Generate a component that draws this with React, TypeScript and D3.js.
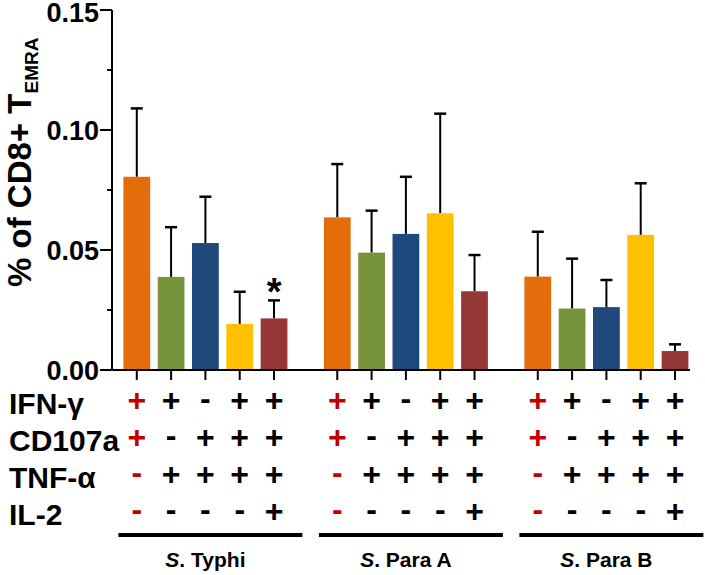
import * as d3 from "d3";

const groups = ["S. Typhi", "S. Para A", "S. Para B"];
const subsets = ["IFN+CD107a+", "IFN+TNF+", "CD107a+TNF+", "IFN+CD107a+TNF+", "IFN+CD107a+TNF+IL2+"];
const colors = ["#E46C0A", "#77933C", "#1F497D", "#FFC000", "#953735"];

// mean values per group (bars)
const typhiMean = [0.0805, 0.0388, 0.0529, 0.0192, 0.0215];
const paraAMean = [0.0636, 0.0489, 0.0567, 0.0653, 0.0328];
const paraBMean = [0.0389, 0.0256, 0.0262, 0.0563, 0.0079];
// upper error (SEM)
const typhiErr = [0.0285, 0.0207, 0.0193, 0.0134, 0.0075];
const paraAErr = [0.0222, 0.0175, 0.0238, 0.0415, 0.0151];
const paraBErr = [0.0187, 0.0208, 0.0113, 0.0215, 0.0028];

const means = [typhiMean, paraAMean, paraBMean];
const errs = [typhiErr, paraAErr, paraBErr];

const yTicks = [0, 0.05, 0.1, 0.15];
const yMinorTicks = [0.025, 0.075, 0.125];

const rowLabels = ["IFN-γ", "CD107a", "TNF-α", "IL-2"];
const rowSigns = [
  ["+", "+", "-", "+", "+"],
  ["+", "-", "+", "+", "+"],
  ["-", "+", "+", "+", "+"],
  ["-", "-", "-", "-", "+"],
];

// significance marks: [group, subset]
const stars = [[0, 4]];

const W = 705;
const H = 575;
const FONT = "'Liberation Sans', Arial, sans-serif";

export default function App() {
  const y = d3.scaleLinear().domain([0, 0.15]).range([370, 10]);
  const xGroup = d3.scaleBand<string>().domain(groups).range([123.4, 688.4]).paddingInner(0.182);
  const xInner = d3
    .scaleBand<string>()
    .domain(subsets)
    .range([0, xGroup.bandwidth()])
    .paddingInner(0.22);

  const cx = (g: number, s: number) =>
    (xGroup(groups[g]) ?? 0) + (xInner(subsets[s]) ?? 0) + xInner.bandwidth() / 2;

  const rowCenters = [400, 437, 474, 511];
  const axisX = 112;
  const bw = xInner.bandwidth();

  return (
    <svg
      width={W}
      height={H}
      style={{ position: "absolute", left: 0, top: 0, display: "block", background: "#fff" }}
      fontFamily={FONT}
    >
      {/* bars + error bars */}
      {means.map((vals, g) =>
        vals.map((v, s) => {
          const x = cx(g, s);
          const top = y(v + errs[g][s]);
          return (
            <g key={`b${g}-${s}`}>
              <line x1={x} x2={x} y1={y(v)} y2={top} stroke="#000" strokeWidth={2} />
              <line x1={x - 6} x2={x + 6} y1={top} y2={top} stroke="#000" strokeWidth={2.5} />
              <rect x={x - bw / 2} y={y(v)} width={bw} height={y(0) - y(v)} fill={colors[s]} />
            </g>
          );
        })
      )}

      {/* significance */}
      {stars.map(([g, s]) => (
        <text
          key={`st${g}${s}`}
          x={cx(g, s)}
          y={y(means[g][s] + errs[g][s]) + 5}
          textAnchor="middle"
          fontSize={38}
          fontWeight="bold"
        >
          *
        </text>
      ))}

      {/* y axis */}
      <line x1={axisX} x2={axisX} y1={y(0.15)} y2={y(0) + 1} stroke="#000" strokeWidth={2} />
      {yTicks.map((t) => (
        <g key={`yt${t}`}>
          <line x1={axisX - 12} x2={axisX} y1={y(t)} y2={y(t)} stroke="#000" strokeWidth={2} />
          <text
            x={axisX - 13}
            y={y(t) + (t === 0.15 ? 2 : 0)}
            dy="0.36em"
            textAnchor="end"
            fontSize={27}
            fontWeight="bold"
          >
            {d3.format(".2f")(t)}
          </text>
        </g>
      ))}
      {yMinorTicks.map((t) => (
        <line key={`ym${t}`} x1={axisX - 5} x2={axisX} y1={y(t)} y2={y(t)} stroke="#000" strokeWidth={2} />
      ))}
      <text transform="translate(31,287) rotate(-90)" fontSize={33} fontWeight="bold">
        % of CD8+ T
        <tspan fontSize={19} dy={7}>
          EMRA
        </tspan>
      </text>

      {/* x axis */}
      <line x1={axisX - 1} x2={690} y1={y(0)} y2={y(0)} stroke="#000" strokeWidth={2} />
      {groups.map((_, g) =>
        subsets.map((_, s) => (
          <line key={`xt${g}${s}`} x1={cx(g, s)} x2={cx(g, s)} y1={y(0)} y2={y(0) + 10} stroke="#000" strokeWidth={2} />
        ))
      )}

      {/* marker table */}
      {rowLabels.map((lab, r) => (
        <text key={`rl${r}`} x={9} y={rowCenters[r] + 14} fontSize={30} fontWeight="bold">
          {lab}
        </text>
      ))}
      {groups.map((_, g) =>
        rowSigns.map((row, r) =>
          row.map((sign, s) => (
            <text
              key={`sg${g}${r}${s}`}
              x={cx(g, s)}
              y={rowCenters[r] + (sign === "+" ? 11 : 9)}
              textAnchor="middle"
              fontSize={32}
              fontWeight="bold"
              fill={s === 0 ? "#C00000" : "#000"}
            >
              {sign}
            </text>
          ))
        )
      )}

      {/* group underlines + labels */}
      {groups.map((name, g) => {
        const c = (xGroup(name) ?? 0) + xGroup.bandwidth() / 2;
        const [sp, ...rest] = name.split(".");
        return (
          <g key={`gl${g}`}>
            <line x1={c - 87} x2={c + 97} y1={535} y2={535} stroke="#000" strokeWidth={4} />
            <text x={c} y={567} textAnchor="middle" fontSize={21} fontWeight="bold">
              <tspan fontStyle="italic">{sp}</tspan>.{rest.join(".")}
            </text>
          </g>
        );
      })}
    </svg>
  );
}
